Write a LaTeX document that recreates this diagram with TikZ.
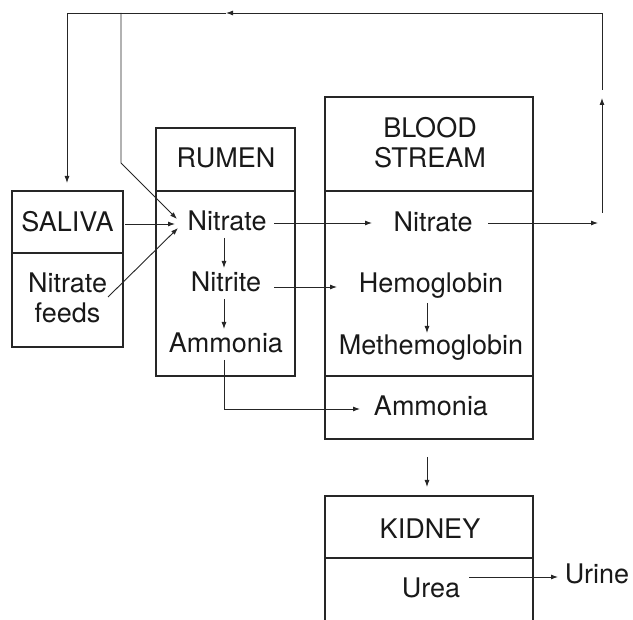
\documentclass[tikz,border=0pt]{standalone}
\usepackage{fontspec}
\setmainfont{TeX Gyre Heros}
\usetikzlibrary{arrows.meta}
\begin{document}
\begin{tikzpicture}[x=1pt,y=-1pt,
  boxline/.style={draw=black!85, line width=1.1pt},
  txt/.style={inner sep=0pt, font=\fontsize{27}{32}\selectfont, anchor=base, text=black!90},
  arr/.style={draw=black!85, line width=0.9pt, -{Latex[length=7pt,width=5pt]}},
  ln/.style={draw=black!85, line width=0.9pt}]
\useasboundingbox (0,0) rectangle (633,620);

% boxes
\draw[boxline] (12,191) rectangle (123,347);
\draw[boxline] (12,253) -- (123,253);
\draw[boxline] (156,128) rectangle (295,376);
\draw[boxline] (156,191) -- (295,191);
\draw[boxline] (325,97) rectangle (533,439);
\draw[boxline] (325,191) -- (533,191);
\draw[boxline] (325,376) -- (533,376);
\draw[boxline] (325,620) -- (325,496) -- (533,496) -- (533,620);
\draw[boxline] (325,558) -- (533,558);

% texts
\node[txt] (sal) at (67.5,232) {SALIVA};
\node[txt] (feed1) at (67.5,293) {Nitrate};
\node[txt] (feed2) at (67.5,323) {feeds};
\node[txt] (rum) at (226,168) {RUMEN};
\node[txt] (rnit) at (227,231) {Nitrate};
\node[txt] (rnite) at (226,292) {Nitrite};
\node[txt] (ramm) at (226,353) {Ammonia};
\node[txt] (blood) at (430,138) {BLOOD};
\node[txt] (stream) at (430,168) {STREAM};
\node[txt] (bnit) at (433,232) {Nitrate};
\node[txt] (hemo) at (431,293) {Hemoglobin};
\node[txt] (meth) at (431,355) {Methemoglobin};
\node[txt] (bamm) at (431,416) {Ammonia};
\node[txt] (kid) at (430,539) {KIDNEY};
\node[txt] (urea) at (431,598) {Urea};
\node[txt] (urine) at (597,584) {Urine};

% coordinates
\coordinate (tr) at (602,13);
\coordinate (tl) at (67,13);
\coordinate (tb) at (121,13);
\coordinate (kink) at (121,163);
\coordinate (mid) at (226,13);
\coordinate (upA) at (602,213);
\coordinate (upB) at (602,98);
\coordinate (upC) at (602,90);
\coordinate (salin) at (67,183);
\coordinate (salout) at (125,224);
\coordinate (rin) at (177,219);
\coordinate (rin2) at (178,228);
\coordinate (feedout) at (108,297);
\coordinate (outr) at (598,223);
\coordinate (ammcorner) at (224,409);

% connectors
\draw[arr] (upA) -- (upB);
\draw[arr] (upC) -- (tr) -- (mid);
\draw[arr] (mid) -- (tl) -- (salin);
\draw[arr] (tb) -- (kink) -- (rin);
\draw[arr] (salout) -- (175,224);
\draw[arr] (feedout) -- (rin2);
\draw[arr] (224,238) -- (224,268);
\draw[arr] (224,299) -- (224,329);
\draw[arr] (274,223) -- (372,223);
\draw[arr] (274,287) -- (337,287);
\draw[arr] (224,360) -- (ammcorner) -- (360,409);
\draw[arr] (488,223) -- (outr);
\draw[arr] (427,303) -- (427,333);
\draw[arr] (427,457) -- (427,487);
\draw[arr] (469,577) -- (558,577);
\end{tikzpicture}
\end{document}
